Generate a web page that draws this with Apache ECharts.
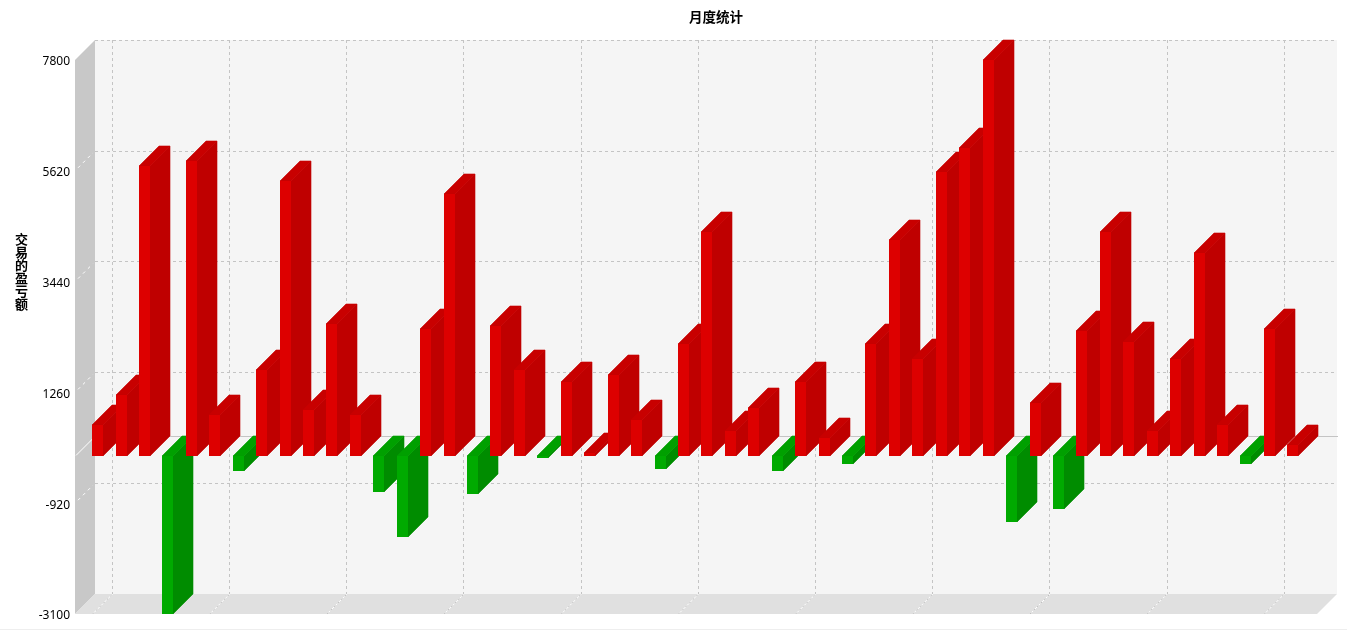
<!DOCTYPE html>
<html>
<head>
<meta charset="utf-8">
<style>html,body{margin:0;padding:0;background:#fff}#c{width:1347px;height:630px}</style>
<script src="https://cdn.jsdelivr.net/npm/echarts@6/dist/echarts.min.js"></script>
</head>
<body>
<div id="c"></div>
<script>
const chartTitle = '月度统计';
const axisName = '交易的盈亏额';
const monthValues = [610,1210,5710,-3100,5810,815,-285,1700,5420,910,2605,815,-700,-1585,2505,5160,-740,2565,1700,-30,1465,60,1600,715,-240,2210,4415,505,950,-285,1465,365,-145,2210,4255,1915,5595,6065,7800,-1290,1050,-1035,2465,4415,2250,500,1915,4000,620,-150,2505,225];
const rangeTicks = [-3100,-920,1260,3440,5620,7800];
const backRangeTicks = [-920,1260,3440,5620,7800];
const monthTicks = [0,5,10,15,20,25,30,35,40,45,50];
const rangeMin = -3100, rangeMax = 7800;
const monthMin = -0.751, monthMax = 52.246;
const DEPTH = 20, BAR_W = 11 / 23.435;
const colors = {
  pos: {front:'#dd0000', side:'#bf0000', top:'#c80000'},
  neg: {front:'#00aa00', side:'#008c00', top:'#00a000'}
};
const poly = (pts, fill) => ({type:'polygon', shape:{points:pts}, style:{fill, stroke:fill, lineWidth:0.6}, silent:true});
const line = (a, b, stroke, dash) => ({type:'line', shape:{x1:a[0],y1:a[1],x2:b[0],y2:b[1]}, silent:true,
  style:{stroke, lineWidth:1, lineDash:dash||null}});

function renderBackdrop(params, api){
  const bl = api.coord([monthMin, rangeMin]), tl = api.coord([monthMin, rangeMax]), br = api.coord([monthMax, rangeMin]);
  const d = DEPTH, kids = [
    {type:'polygon', shape:{points:[tl,[tl[0]+d,tl[1]-d],[bl[0]+d,bl[1]-d],bl]}, style:{fill:'#c8c8c8'}, silent:true},
    {type:'polygon', shape:{points:[bl,[bl[0]+d,bl[1]-d],[br[0]+d,br[1]-d],br]}, style:{fill:'#e0e0e0'}, silent:true}
  ];
  backRangeTicks.slice(0,-1).forEach(v=>{
    const p = api.coord([monthMin, v]);
    kids.push(line([p[0]+3,p[1]-3],[p[0]+d-2,p[1]-d+2],'#ffffff',[3,4]));
  });
  const z = api.coord([monthMin, 0]);
  kids.push(line([z[0]+1,z[1]-1],[z[0]+d-2,z[1]-d+2],'#ffffff'));
  const zr = api.coord([monthMax, 0]);
  kids.push(line([z[0]+d,Math.round(z[1])-d+0.5],[zr[0]+d+1,Math.round(zr[1])-d+0.5],'#c4c4c4'));
  monthTicks.forEach(m=>{
    const p = api.coord([m, rangeMin]);
    kids.push(line([p[0],p[1]],[p[0]+d,p[1]-d],'#ffffff'));
    kids.push(line([p[0],p[1]],[p[0]+d,p[1]-d],'#c0c0c0',[2,3]));
  });
  return {type:'group', children:kids};
}

function renderBar(params, api){
  const i = api.value(0), v = api.value(1);
  const a = api.coord([i, Math.max(v,0)]), b = api.coord([i+BAR_W, Math.min(v,0)]);
  const c = v >= 0 ? colors.pos : colors.neg, d = DEPTH;
  const x0 = Math.floor(a[0]), x1 = x0 + 11, y0 = Math.round(a[1]), y1 = Math.round(b[1]);
  return {type:'group', children:[
    poly([[x1,y0],[x1+d,y0-d],[x1+d,y1-d],[x1,y1]], c.side),
    poly([[x0,y0],[x0+d,y0-d],[x1+d,y0-d],[x1,y0]], c.top),
    {type:'rect', shape:{x:x0,y:y0,width:11,height:y1-y0}, style:{fill:c.front}, silent:true}
  ]};
}

const chart = echarts.init(document.getElementById('c'), null, {renderer:'canvas'});
chart.setOption({
  animation:false,
  backgroundColor:'#ffffff',
  title:[
    {text:chartTitle, left:689, top:4, padding:[5,0,0,0], textStyle:{fontFamily:'"Noto Sans CJK SC"', fontSize:13.5, fontWeight:'bold', color:'#000', lineHeight:16}},
    {text:axisName.split('').join('\n'), left:15, top:233, padding:0, textStyle:{fontFamily:'"Noto Sans CJK SC"', fontSize:13, fontWeight:'bold', color:'#000', lineHeight:13}}
  ],
  grid:[
    {left:95, right:10, top:40, bottom:36, show:true, backgroundColor:'#f5f5f5', borderWidth:0},
    {left:75, right:30, top:60, bottom:16, show:false}
  ],
  xAxis:[
    {gridIndex:0, type:'value', min:-0.734, max:52.263, axisLine:{show:false}, axisLabel:{show:false},
     axisTick:{show:false, customValues:monthTicks},
     splitLine:{show:true, lineStyle:{color:'#c4c4c4', type:[3,3], width:1}}},
    {gridIndex:1, type:'value', min:monthMin, max:monthMax, show:false}
  ],
  yAxis:[
    {gridIndex:0, type:'value', min:rangeMin, max:rangeMax, axisLine:{show:false}, axisLabel:{show:false},
     axisTick:{show:false, customValues:backRangeTicks},
     splitLine:{show:true, lineStyle:{color:'#c4c4c4', type:[3,3], width:1}}},
    {gridIndex:1, type:'value', min:rangeMin, max:rangeMax, axisLine:{show:false}, splitLine:{show:false},
     axisTick:{show:false, customValues:rangeTicks},
     axisLabel:{show:true, customValues:rangeTicks, margin:5, color:'#000', fontSize:12, fontFamily:'"Noto Sans"', verticalAlign:'top', padding:[-4,0,0,0], formatter:v=>String(v), hideOverlap:false, showMinLabel:true, showMaxLabel:true}}
  ],
  series:[
    {type:'custom', name:'backdrop', xAxisIndex:1, yAxisIndex:1, z:1, clip:false, silent:true, renderItem:renderBackdrop, data:[[0,0]]},
    {type:'custom', name:'交易的盈亏额', xAxisIndex:1, yAxisIndex:1, z:3, clip:false, silent:true, renderItem:renderBar,
     encode:{x:0,y:1}, data:monthValues.map((v,i)=>[i,v])}
  ],
  graphic:[{type:'rect', shape:{x:0,y:629,width:1347,height:1}, style:{fill:'#eeeeee'}, silent:true}]
});
</script>
</body>
</html>
